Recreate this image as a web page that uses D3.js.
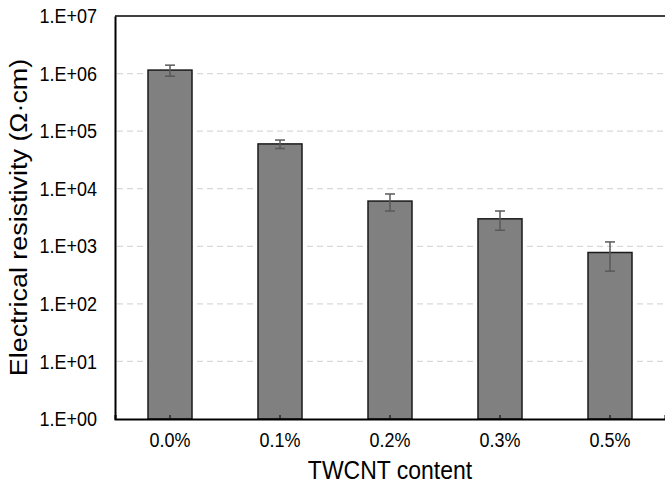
<!DOCTYPE html>
<html>
<head>
<meta charset="utf-8">
<script src="https://cdn.jsdelivr.net/npm/d3@7"></script>
<style>
  body { margin: 0; background: #fff; }
  svg { display: block; font-family: "Liberation Sans", Arial, sans-serif; }
</style>
</head>
<body>
<div id="chart"></div>
<script>
// Chart data
const categories = ["0.0%", "0.1%", "0.2%", "0.3%", "0.5%"];
const resistivity = [1150000, 60000, 6100, 3000, 780];
const errors = [250000, 10000, 2000, 1100, 410];
const yTicks = [1, 10, 100, 1000, 10000, 100000, 1000000, 10000000];

const data = categories.map((c, i) => ({ cat: c, value: resistivity[i], err: errors[i] }));

const margin = { top: 16, right: 0, bottom: 68, left: 115 },
    width = 665 - margin.left - margin.right,
    height = 487 - margin.top - margin.bottom;

// the source text is a bit taller than wide
const stretch = 1.12;

const svg = d3.select("#chart")
    .append("svg")
    .attr("width", 665)
    .attr("height", 487)
    .append("g")
    .attr("transform", `translate(${margin.left},${margin.top})`);

const x = d3.scaleBand()
    .domain(categories)
    .range([0, width])
    .paddingInner(0.6)
    .paddingOuter(0.3);

const y = d3.scaleLog()
    .domain([1, 1e7])
    .range([height, 0]);

// dashed gridlines
svg.selectAll(".grid")
    .data(yTicks.slice(1, -1))
    .enter()
    .append("line")
    .attr("x1", 2)
    .attr("x2", width)
    .attr("y1", (d) => y(d))
    .attr("y2", (d) => y(d))
    .attr("stroke", "#d9d9d9")
    .attr("stroke-width", 1.3)
    .attr("stroke-dasharray", "6,4");

// top border
svg.append("line")
    .attr("x1", 0).attr("x2", width)
    .attr("y1", 0).attr("y2", 0)
    .attr("stroke", "#404040")
    .attr("stroke-width", 2);

// bars
svg.selectAll(".bar")
    .data(data)
    .enter()
    .append("rect")
    .attr("class", "bar")
    .attr("x", (d) => x(d.cat))
    .attr("width", x.bandwidth())
    .attr("y", (d) => y(d.value))
    .attr("height", (d) => height - y(d.value))
    .attr("fill", "#808080")
    .attr("stroke", "#1a1a1a")
    .attr("stroke-width", 1.5);

// error bars
const cx = (d) => x(d.cat) + x.bandwidth() / 2;
const eb = svg.selectAll(".err")
    .data(data)
    .enter()
    .append("g")
    .attr("stroke", "#595959")
    .attr("stroke-width", 1.5);
eb.append("line")
    .attr("x1", cx).attr("x2", cx)
    .attr("y1", (d) => y(d.value + d.err))
    .attr("y2", (d) => y(d.value - d.err));
eb.append("line")
    .attr("x1", (d) => cx(d) - 5).attr("x2", (d) => cx(d) + 5)
    .attr("y1", (d) => y(d.value + d.err))
    .attr("y2", (d) => y(d.value + d.err));
eb.append("line")
    .attr("x1", (d) => cx(d) - 5).attr("x2", (d) => cx(d) + 5)
    .attr("y1", (d) => y(d.value - d.err))
    .attr("y2", (d) => y(d.value - d.err));

// x axis
const xAxis = svg.append("g")
    .attr("transform", `translate(0,${height})`)
    .call(d3.axisBottom(x).tickSize(-4));
xAxis.select(".domain").attr("stroke", "#000").attr("stroke-width", 2);
xAxis.selectAll(".tick line").attr("stroke", "#1a1a1a").attr("stroke-width", 1.3);
xAxis.selectAll(".tick text")
    .attr("fill", "#000")
    .attr("y", 12)
    .attr("transform", `scale(1,${stretch})`)
    .style("font-size", "18px");

// y axis
const yAxis = svg.append("g")
    .call(d3.axisLeft(y)
        .tickValues(yTicks)
        .tickSize(0)
        .tickPadding(18)
        .tickFormat((d) => "1.E+" + String(Math.round(Math.log10(d))).padStart(2, "0")));
yAxis.select(".domain").attr("stroke", "#000").attr("stroke-width", 2);
yAxis.selectAll(".tick text")
    .attr("fill", "#000")
    .attr("dy", "0.33em")
    .attr("transform", `scale(1,${stretch})`)
    .style("font-size", "18px");

// axis titles
svg.append("g")
    .attr("transform", `translate(${width / 2},${height + 60}) scale(1,1.15)`)
    .append("text")
    .attr("text-anchor", "middle")
    .style("font-size", "23px")
    .text("TWCNT content");

svg.append("g")
    .attr("transform", `translate(${-margin.left + 27},${height / 2}) rotate(-90) scale(1.17,1)`)
    .append("text")
    .attr("text-anchor", "middle")
    .style("font-size", "23px")
    .text("Electrical resistivity (Ω·cm)");
</script>
</body>
</html>
